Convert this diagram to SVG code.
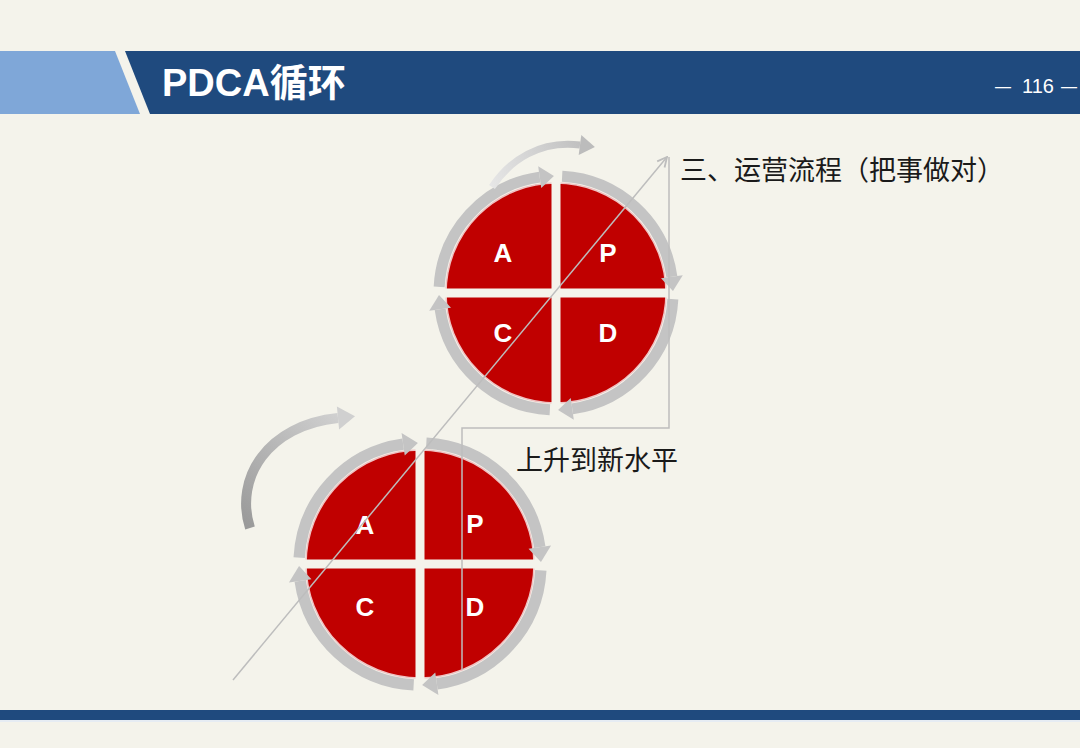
<svg xmlns="http://www.w3.org/2000/svg" width="1080" height="748" viewBox="0 0 1080 748">
<defs>
<style>
.ring{fill:none;stroke:#c4c4c4;stroke-width:11}
.head{fill:#c4c4c4}
.disk{fill:#c00000;stroke:#efc2c2;stroke-width:1.5}
.gap{fill:#f4f3eb}
.letter{font-family:"Liberation Sans",Arial,sans-serif;font-weight:bold;font-size:26px;fill:#ffffff;text-anchor:middle}
.thin{fill:none;stroke:#bdbdbd;stroke-width:1.5}
.label{font-family:"Noto Sans CJK SC","Noto Sans",sans-serif;font-size:27px;fill:#1a1a1a}
.pg{font-family:"Liberation Sans",Arial,sans-serif;font-size:20px;fill:#ffffff}
.dash{font-family:"Liberation Sans",Arial,sans-serif;font-size:16px;fill:#ffffff}
</style>
<g id="qarrow">
<path class="ring" d="M -116.84 -6.12 A 117 117 0 0 1 -16.29 -115.87"/>
<polygon class="head" points="-14.76,-104.97 -17.82,-126.76 -2.04,-116.98"/>
</g>
<linearGradient id="gTop" gradientUnits="userSpaceOnUse" x1="492" y1="187" x2="594" y2="148">
<stop offset="0" stop-color="#e6e6e6"/><stop offset="1" stop-color="#bcbcbc"/>
</linearGradient>
<linearGradient id="gLeft" gradientUnits="userSpaceOnUse" x1="250" y1="528" x2="355" y2="416">
<stop offset="0" stop-color="#9a9a9a"/><stop offset="1" stop-color="#d4d4d4"/>
</linearGradient>
<marker id="arr" viewBox="0 0 10 10" refX="9" refY="5" markerWidth="12" markerHeight="12" orient="auto" markerUnits="userSpaceOnUse">
<path d="M1,1 L9,5 L1,9" fill="none" stroke="#bdbdbd" stroke-width="1.5"/>
</marker>
</defs>

<rect x="0" y="0" width="1080" height="748" fill="#f4f3eb"/>

<g id="header">
<polygon points="0,51 115,51 140,114 0,114" fill="#7fa7d8"/>
<polygon points="125,51 1080,51 1080,114 150,114" fill="#1f4a7e"/>
<text x="162" y="96" font-family="'Liberation Sans','Noto Sans CJK SC',sans-serif" font-weight="bold" font-size="38" fill="#ffffff">PDCA循环</text>
<text class="dash" x="995" y="92">—</text>
<text class="pg" x="1022" y="93">116</text>
<text class="dash" x="1061" y="92">—</text>
</g>

<g id="footer">
<rect x="0" y="710" width="1080" height="10" fill="#1f4a7e"/>
<rect x="0" y="720" width="1080" height="2" fill="#e6ecf3"/>
</g>

<g id="node-top-pdca">
<circle class="disk" cx="556" cy="293" r="110"/>
<rect class="gap" x="551.5" y="181" width="9" height="224"/>
<rect class="gap" x="444" y="288.5" width="224" height="9"/>
<use href="#qarrow" transform="translate(556,293)"/>
<use href="#qarrow" transform="translate(556,293) rotate(90)"/>
<use href="#qarrow" transform="translate(556,293) rotate(180)"/>
<use href="#qarrow" transform="translate(556,293) rotate(270)"/>
<text class="letter" x="503" y="262">A</text>
<text class="letter" x="608" y="262">P</text>
<text class="letter" x="503" y="342">C</text>
<text class="letter" x="608" y="342">D</text>
<path d="M492,187 C510,160 540,140 580,145" fill="none" stroke="url(#gTop)" stroke-width="7"/>
<polygon points="581.3,135.1 578.7,154.9 594.9,147" fill="#bcbcbc"/>
</g>

<g id="node-bottom-pdca">
<circle class="disk" cx="420" cy="564" r="114"/>
<rect class="gap" x="415.5" y="448" width="9" height="232"/>
<rect class="gap" x="304" y="559.5" width="232" height="9"/>
<use href="#qarrow" transform="translate(420,564) scale(1.034)"/>
<use href="#qarrow" transform="translate(420,564) scale(1.034) rotate(90)"/>
<use href="#qarrow" transform="translate(420,564) scale(1.034) rotate(180)"/>
<use href="#qarrow" transform="translate(420,564) scale(1.034) rotate(270)"/>
<text class="letter" x="365" y="534">A</text>
<text class="letter" x="475" y="533">P</text>
<text class="letter" x="365" y="616">C</text>
<text class="letter" x="475" y="616">D</text>
<path d="M250,528 C234,478 268,425 338,418" fill="none" stroke="url(#gLeft)" stroke-width="10"/>
<polygon points="339.1,429.5 336.9,406.5 355,416.3" fill="#d0d0d0"/>
</g>

<g id="connectors">
<path class="thin" d="M233,680 L667,157" stroke="#c8c8c8" marker-end="url(#arr)"/>
<polyline class="thin" points="669,157 669,428 462,428 462,670"/>
</g>

<g id="labels">
<text class="label" x="680" y="180">三、运营流程（把事做对）</text>
<text class="label" x="516" y="470" font-size="28">上升到新水平</text>
</g>
</svg>
